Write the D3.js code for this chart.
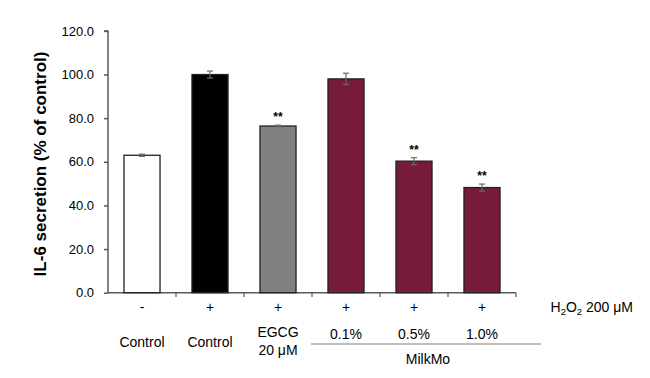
<!DOCTYPE html>
<html><head><meta charset="utf-8">
<script src="https://cdn.jsdelivr.net/npm/d3@7"></script>
<style>body{margin:0;background:#fff}svg{display:block}text{font-family:Arial,"Liberation Sans",sans-serif;fill:#000}</style>
</head><body><svg id="c" width="650" height="378"></svg>
<script>
const categories = ["c1","c2","c3","c4","c5","c6"];
const values = [63.0, 100.0, 76.4, 98.0, 60.3, 48.2];
const errors = [0.5, 1.6, 0.4, 2.6, 1.6, 1.6];
const signif = ["", "", "**", "", "**", "**"];
const h2o2 = ["-", "+", "+", "+", "+", "+"];
const labelsLine1 = ["Control", "Control", "EGCG", "0.1%", "0.5%", "1.0%"];
const labelsLine2 = ["", "", "20 μM", "", "", ""];
const fills = ["#ffffff", "#000000", "#808080", "#761b3a", "#761b3a", "#761b3a"];
const yTicks = [0, 20, 40, 60, 80, 100, 120];

const svg = d3.select("#c");
const x = d3.scaleBand().domain(categories).range([108, 516]).paddingInner(0.47).paddingOuter(0.235);
const y = d3.scaleLinear().domain([0, 120]).range([292.7, 30.9]);
const axisColor = "#595959";

// y axis
const ya = svg.append("g").attr("transform", "translate(108,0)")
  .call(d3.axisLeft(y).tickValues(yTicks).tickFormat(d3.format(".1f")).tickSize(4).tickPadding(10));
ya.selectAll("path,line").attr("stroke", axisColor).attr("stroke-width", 1.5);
ya.select(".domain").attr("d", "M-4,30.9H0V292.7");
ya.selectAll("text").attr("font-size", 13).attr("fill", "#000").style("font-family", "Arial,'Liberation Sans',sans-serif");

// x axis
const step = x.step();
const xa = svg.append("g").attr("transform", "translate(0,292.7)")
  .call(d3.axisBottom(x).tickSize(0).tickFormat(""));
xa.select(".domain").attr("stroke", axisColor).attr("stroke-width", 1.5).attr("d", "M108,0H516");
xa.selectAll(".tick").remove();
const bounds = categories.map(c => x(c) + x.bandwidth() / 2 + step / 2);
svg.append("g").selectAll("line").data(bounds).join("line")
  .attr("x1", d => d).attr("x2", d => d).attr("y1", 292.7).attr("y2", 297)
  .attr("stroke", axisColor).attr("stroke-width", 1.2);

// bars
svg.append("g").selectAll("rect").data(categories).join("rect")
  .attr("x", c => x(c)).attr("width", x.bandwidth())
  .attr("y", (c, i) => y(values[i])).attr("height", (c, i) => y(0) - y(values[i]))
  .attr("fill", (c, i) => fills[i]).attr("stroke", "#222").attr("stroke-width", 1.3);

// error bars
const eg = svg.append("g").attr("stroke", "#6a6a6a").attr("stroke-width", 1.2);
categories.forEach((c, i) => {
  const cx = x(c) + x.bandwidth() / 2;
  eg.append("line").attr("x1", cx).attr("x2", cx).attr("y1", y(values[i] + errors[i])).attr("y2", y(values[i] - errors[i]));
  eg.append("line").attr("x1", cx - 3).attr("x2", cx + 3).attr("y1", y(values[i] + errors[i])).attr("y2", y(values[i] + errors[i]));
  eg.append("line").attr("x1", cx - 3).attr("x2", cx + 3).attr("y1", y(values[i] - errors[i])).attr("y2", y(values[i] - errors[i]));
});

// significance
svg.append("g").selectAll("text").data(categories).join("text")
  .attr("x", c => x(c) + x.bandwidth() / 2)
  .attr("y", (c, i) => y(values[i] + errors[i]) - 4)
  .attr("text-anchor", "middle").attr("font-size", 12).attr("font-weight", "bold")
  .text((c, i) => signif[i]);

// H2O2 row
svg.append("g").selectAll("text").data(categories).join("text")
  .attr("x", c => x(c) + x.bandwidth() / 2).attr("y", 311.5)
  .attr("text-anchor", "middle").attr("font-size", 14).text((c, i) => h2o2[i]);
const ht = svg.append("text").attr("x", 550.5).attr("y", 311.5).attr("font-size", 14);
ht.append("tspan").text("H");
ht.append("tspan").attr("font-size", 9.5).attr("dy", 3).text("2");
ht.append("tspan").attr("dy", -3).text("O");
ht.append("tspan").attr("font-size", 9.5).attr("dy", 3).text("2");
ht.append("tspan").attr("dy", -3).text(" 200 μM");

// labels
svg.append("g").selectAll("text").data(categories).join("text")
  .attr("x", c => x(c) + x.bandwidth() / 2)
  .attr("y", (c, i) => i < 2 ? 347 : (i === 2 ? 337 : 338.5))
  .attr("text-anchor", "middle").attr("font-size", 14).text((c, i) => labelsLine1[i]);
svg.append("g").selectAll("text").data(categories).join("text")
  .attr("x", c => x(c) + x.bandwidth() / 2).attr("y", 355)
  .attr("text-anchor", "middle").attr("font-size", 14).text((c, i) => labelsLine2[i]);

// MilkMo group line
const g0 = x(categories[3]) - step * 0.47 / 2 - 1;
const g1 = x(categories[5]) + x.bandwidth() + step * 0.47 / 2 + 25;
svg.append("line").attr("x1", g0).attr("x2", g1).attr("y1", 344).attr("y2", 344)
  .attr("stroke", "#7f7f7f").attr("stroke-width", 1.2);
svg.append("text").attr("x", 428).attr("y", 363.5).attr("text-anchor", "middle").attr("font-size", 14).text("MilkMo");

// y title
svg.append("text").attr("transform", "translate(46,164) rotate(-90)")
  .attr("text-anchor", "middle").attr("font-size", 17).attr("font-weight", "bold")
  .text("IL-6 secretion (% of control)");
</script></body></html>
